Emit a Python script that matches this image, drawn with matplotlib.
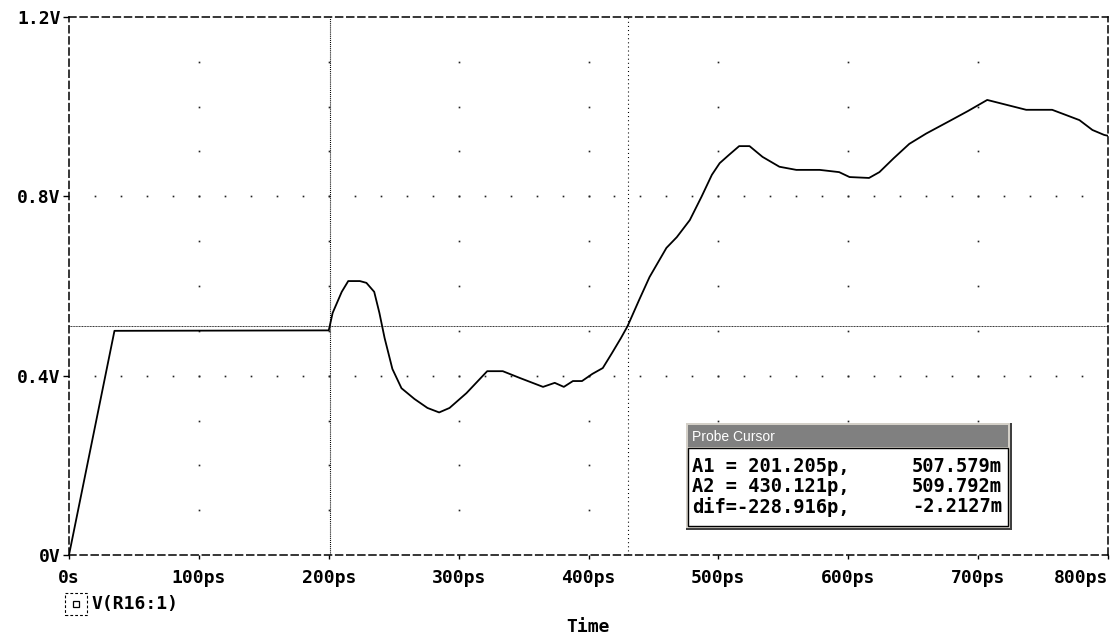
import matplotlib
matplotlib.use("Agg")
import matplotlib.pyplot as plt
from matplotlib.patches import Rectangle

plt.rcParams['lines.scale_dashes'] = False

# V(R16:1) trace
time_ps = [0, 35, 200, 203, 210, 215, 224, 229, 235, 239, 243, 249, 256, 266, 276, 285,
           293, 306, 322, 334, 347, 365, 374, 381, 388, 395, 403, 411, 418, 425, 430, 439,
           447, 460, 468, 478, 487, 495, 501, 508, 516, 524, 534, 547, 560, 578, 593, 601,
           616, 624, 635, 647, 660, 678, 692, 707, 722, 737, 757, 768, 778, 788, 797, 800]
v_r16 = [0.0, 0.500, 0.501, 0.54, 0.587, 0.611, 0.611, 0.607, 0.587, 0.54, 0.484, 0.415,
         0.372, 0.348, 0.328, 0.318, 0.328, 0.361, 0.41, 0.41, 0.395, 0.375, 0.384, 0.375,
         0.388, 0.388, 0.404, 0.417, 0.45, 0.484, 0.51, 0.569, 0.62, 0.685, 0.709, 0.747,
         0.799, 0.848, 0.874, 0.892, 0.912, 0.912, 0.888, 0.866, 0.859, 0.859, 0.854, 0.843,
         0.841, 0.854, 0.885, 0.917, 0.94, 0.968, 0.99, 1.015, 1.004, 0.993, 0.993, 0.981,
         0.97, 0.948, 0.937, 0.935]

x_ticks = [0, 100, 200, 300, 400, 500, 600, 700, 800]
x_labels = ['0s', '100ps', '200ps', '300ps', '400ps', '500ps', '600ps', '700ps', '800ps']
y_ticks = [0, 0.4, 0.8, 1.2]
y_labels = ['0V', '0.4V', '0.8V', '1.2V']

cursor_a1 = (201.205, 0.507579)
cursor_a2 = (430.121, 0.509792)
cursor_rows = [("A1 = 201.205p,", "507.579m"),
               ("A2 = 430.121p,", "509.792m"),
               ("dif=-228.916p,", "-2.2127m")]

W, H = 1115, 639
mono = 'DejaVu Sans Mono'


def fx(px):
    return px / W


def fy(py):
    return 1 - py / H


fig = plt.figure(figsize=(W / 100, H / 100), dpi=100)
ax = fig.add_axes([fx(69), fy(555), (1108 - 69) / W, (555 - 17) / H])


def px_rect(x0, y0, x1, y1, **kw):
    return Rectangle((fx(x0), fy(y1)), (x1 - x0) / W, (y1 - y0) / H,
                     transform=fig.transFigure, **kw)


# sparse dotted grid like the probe window
for xt in x_ticks[1:-1]:
    ys = [i / 10 for i in range(1, 12)]
    ax.plot([xt] * len(ys), ys, ls='none', marker='s', ms=1.2, mew=0, color='#222222')
for yt in y_ticks[1:-1]:
    xs = list(range(20, 800, 20))
    ax.plot(xs, [yt] * len(xs), ls='none', marker='s', ms=1.2, mew=0, color='#222222')

# cursors
ax.axvline(cursor_a1[0], color='black', lw=0.8, ls=(0, (0.75, 0.75)))
ax.axvline(cursor_a2[0], color='black', lw=0.8, ls=(0, (0.75, 2.2)))
ax.axhline(cursor_a2[1], color='#333333', lw=0.7, ls=(0, (0.75, 1.5)))
ax.axhline(cursor_a2[1] + 0.002, color='#333333', lw=0.7, ls=(1.1, (0.75, 1.5)))

ax.plot(time_ps, v_r16, color='black', lw=1.3, zorder=3)

ax.set_xlim(0, 800)
ax.set_ylim(0, 1.2)
ax.set_xticks(x_ticks)
ax.set_xticklabels(x_labels, family=mono, fontweight='bold', fontsize=13)
ax.set_yticks(y_ticks)
ax.set_yticklabels(y_labels, family=mono, fontweight='bold', fontsize=13)
ax.get_xticklabels()[-1].set_horizontalalignment('right')
ax.tick_params(axis='x', direction='out', length=3, width=1, pad=7)
ax.tick_params(axis='y', direction='out', length=4, width=1, pad=2)

for sp in ax.spines.values():
    sp.set_linestyle((0, (5, 3)))
    sp.set_linewidth(1.1)

fig.text(fx(588), fy(627), 'Time', family=mono, fontweight='bold', fontsize=13,
         ha='center', va='center')

# trace legend
fig.add_artist(px_rect(65, 593, 87, 615, fill=False, edgecolor='black', lw=0.8,
                       ls=(0, (2, 1.5))))
fig.add_artist(px_rect(73, 601, 79, 607, fill=False, edgecolor='black', lw=0.9))
fig.text(fx(91), fy(604), 'V(R16:1)', family=mono, fontweight='bold', fontsize=13,
         ha='left', va='center')

# Probe Cursor window
fig.add_artist(px_rect(686, 423, 1012, 530, facecolor='#404040', edgecolor='none', zorder=5))
fig.add_artist(px_rect(686, 423, 1010, 528, facecolor='#d4d0c8', edgecolor='none', zorder=5))
fig.add_artist(px_rect(688, 425, 1008, 447, facecolor='#808080', edgecolor='none', zorder=6))
fig.add_artist(px_rect(688, 448, 1008, 526, facecolor='white', edgecolor='black', lw=1,
                       zorder=6))
fig.text(fx(692), fy(437), 'Probe Cursor', family='Liberation Sans', fontsize=10,
         color='white', ha='left', va='center', zorder=7)
for i, (left, right) in enumerate(cursor_rows):
    y = 467 + i * 20
    fig.text(fx(692), fy(y), left, family=mono, fontweight='bold', fontsize=13.5,
             ha='left', va='center', zorder=7)
    fig.text(fx(1002), fy(y), right, family=mono, fontweight='bold', fontsize=13.5,
             ha='right', va='center', zorder=7)

fig.savefig('out.png', dpi=100)
